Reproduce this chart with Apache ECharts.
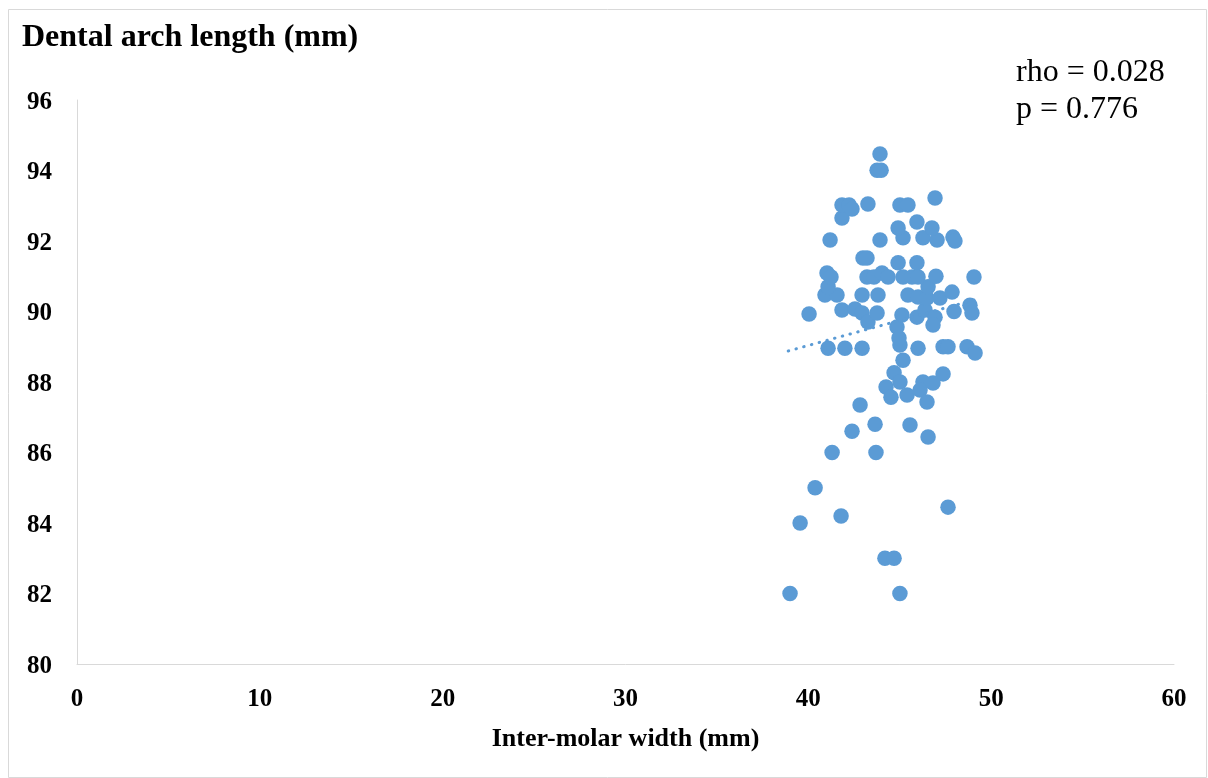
<!DOCTYPE html>
<html>
<head>
<meta charset="utf-8">
<script src="https://cdn.jsdelivr.net/npm/echarts@6/dist/echarts.min.js"></script>
<style>
html,body{margin:0;padding:0;background:#fff;}
#chart{width:1208px;height:778px;}
</style>
</head>
<body>
<div id="chart"></div>
<script>
// ---- data ----
const xTicks = [0, 10, 20, 30, 40, 50, 60];
const yTicks = [80, 82, 84, 86, 88, 90, 92, 94, 96];

const intermolarWidth = [
  39.0, 39.55, 40.37, 41.79, 41.3, 42.39, 42.83, 43.65, 43.7, 44.19, 44.69, 45.01, 45.56, 46.55, 47.64,
  44.25, 44.52, 44.69, 45.01, 45.4, 45.18, 46.27, 46.82, 47.37, 46.11, 46.49,
  41.08, 42.0, 42.94, 45.01, 46.0, 47.37, 47.64, 48.68, 49.12,
  44.85, 44.96, 40.04, 41.84, 42.55, 42.94, 43.26, 43.76,
  45.12, 45.94, 46.38, 46.93, 46.82, 47.97, 48.84, 48.95,
  40.91, 41.57, 42.94, 43.81, 45.45, 46.0, 46.49, 47.2, 47.86, 41.08, 46.55,
  41.02, 41.24, 43.21, 43.59, 44.03, 44.36, 45.18, 45.67, 46.0, 46.98, 49.06,
  42.99, 43.21, 44.91, 45.94,
  41.19, 43.92, 45.18, 46.27, 47.04, 47.91, 48.02, 44.91, 46.76, 45.94, 41.84,
  41.84, 42.23, 42.39, 43.26, 45.01, 45.45, 46.93, 43.92, 43.76, 43.98
];
const archLength = [
  82.0, 84.0, 85.0, 84.2, 86.0, 86.6, 87.35, 86.8, 86.0, 83.0, 83.0, 82.0, 86.78, 86.44, 84.45,
  87.86, 87.57, 88.26, 88.0, 87.63, 88.62, 88.0, 87.97, 88.23, 87.77, 87.43,
  88.96, 88.96, 88.96, 89.05, 88.96, 89.0, 89.0, 89.0, 88.82,
  89.56, 89.25, 89.93, 90.04, 90.07, 89.96, 89.7, 89.96,
  89.9, 89.84, 90.04, 89.84, 89.62, 90.0, 90.18, 89.96,
  90.47, 90.47, 90.47, 90.47, 90.47, 90.41, 90.38, 90.38, 90.55, 90.7, 90.7,
  91.09, 90.98, 90.98, 90.98, 91.09, 90.98, 90.98, 90.98, 90.98, 91.0, 90.98,
  91.52, 91.52, 91.38, 91.38,
  92.03, 92.03, 92.09, 92.09, 92.03, 92.11, 92.0, 92.37, 92.37, 92.54, 92.65,
  93.02, 93.02, 92.91, 93.05, 93.02, 93.02, 93.22, 94.47, 94.01, 94.01
];
const trendX = [38.9, 49.1];
const trendY = [88.88, 90.33];

const titleText = 'Dental arch length (mm)';
const xAxisName = 'Inter-molar width (mm)';
const statLines = ['rho = 0.028', 'p = 0.776'];

// ---- chart ----
const FONT = '"Liberation Serif", "Times New Roman", serif';
const BLUE = '#5B9BD5';
const points = intermolarWidth.map((x, i) => [x, archLength[i]]);
const trend = trendX.map((x, i) => [x, trendY[i]]);

const chart = echarts.init(document.getElementById('chart'), null, {renderer: 'canvas'});
chart.setOption({
  animation: false,
  backgroundColor: '#ffffff',
  grid: {left: 77, right: 34, top: 100, bottom: 114, containLabel: false},
  xAxis: {
    type: 'value', min: xTicks[0], max: xTicks[xTicks.length - 1], interval: 10,
    name: xAxisName, nameLocation: 'middle', nameGap: 62,
    nameTextStyle: {fontFamily: FONT, fontWeight: 'bold', fontSize: 26, color: '#000'},
    axisLine: {show: true, onZero: false, lineStyle: {color: '#d9d9d9', width: 1}},
    axisTick: {show: false},
    splitLine: {show: false},
    axisLabel: {margin: 23, fontFamily: FONT, fontWeight: 'bold', fontSize: 25, color: '#000'}
  },
  yAxis: {
    type: 'value', min: yTicks[0], max: yTicks[yTicks.length - 1], interval: 2,
    axisLine: {show: true, onZero: false, lineStyle: {color: '#d9d9d9', width: 1}},
    axisTick: {show: false},
    splitLine: {show: false},
    axisLabel: {margin: 25, verticalAlign: 'top', lineHeight: 25, padding: [-10, 0, 0, 0],
      fontFamily: FONT, fontWeight: 'bold', fontSize: 25, color: '#000'}
  },
  series: [
    {
      type: 'line', data: trend, showSymbol: false, symbol: 'none', silent: true, z: 3,
      lineStyle: {color: BLUE, width: 3, type: [0.5, 7.5], cap: 'round'}
    },
    {
      type: 'scatter', data: points, symbol: 'circle', symbolSize: 15.5, z: 2,
      itemStyle: {color: BLUE, opacity: 1}
    }
  ],
  graphic: [
    {type: 'rect', silent: true, z: -1,
     shape: {x: 8.5, y: 9.5, width: 1198, height: 768},
     style: {fill: null, stroke: '#d9d9d9', lineWidth: 1}},
    {type: 'text', left: 22, top: 22,
     style: {text: titleText, font: 'bold 32px ' + FONT, fill: '#000'}},
    {type: 'text', left: 1016, top: 54,
     style: {text: statLines.join('\n'), font: '32px ' + FONT, fill: '#000', lineHeight: 37}}
  ]
});
</script>
</body>
</html>
